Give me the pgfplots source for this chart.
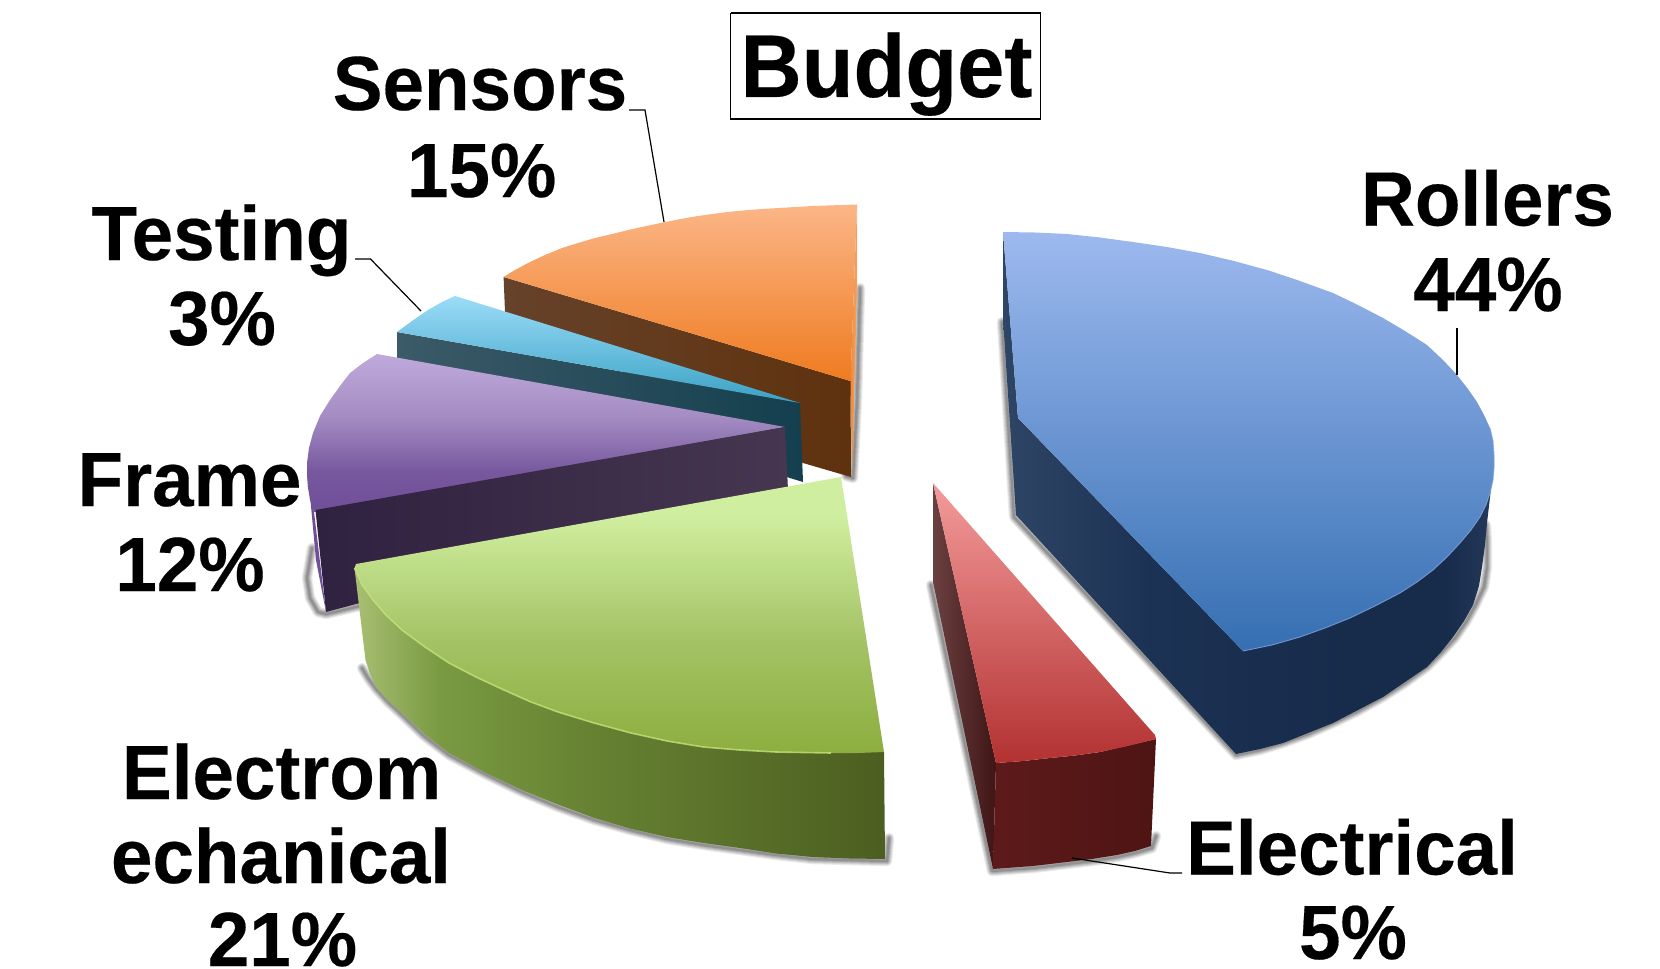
\documentclass[border=0pt]{standalone}
\usepackage{fontspec}
\setmainfont{Liberation Sans}[BoldFeatures={FakeBold=0.25}]
\usepackage{pgfplots}
\pgfplotsset{compat=1.18}

\definecolor{orTop}{HTML}{FBB687}\definecolor{orBot}{HTML}{EF7B20}
\definecolor{orEdgeL}{HTML}{EF8A3A}\definecolor{orEdgeR}{HTML}{F3A469}
\definecolor{orSideL}{HTML}{66422A}\definecolor{orSideR}{HTML}{5F320E}
\definecolor{cyTop}{HTML}{9BDCF8}\definecolor{cyBot}{HTML}{39A1C4}
\definecolor{cySideL}{HTML}{3C5A68}\definecolor{cySideR}{HTML}{143F4E}
\definecolor{puTop}{HTML}{C0AADC}\definecolor{puMid}{HTML}{A48CC2}\definecolor{puBot}{HTML}{6F4F98}
\definecolor{puSideL}{HTML}{2F2140}\definecolor{puSideR}{HTML}{463650}
\definecolor{grTop}{HTML}{D0EE9F}\definecolor{grMid}{HTML}{A3C264}\definecolor{grBot}{HTML}{8DAE3F}
\definecolor{grSideA}{HTML}{A8BF73}\definecolor{grSideB}{HTML}{7A9A42}\definecolor{grSideC}{HTML}{668232}\definecolor{grSideD}{HTML}{4C5E20}
\definecolor{grRim}{HTML}{C4E27A}
\definecolor{reTop}{HTML}{F49B9B}\definecolor{reBot}{HTML}{B33131}
\definecolor{reFlankL}{HTML}{6B4040}\definecolor{reFlankR}{HTML}{3F1515}
\definecolor{reSideL}{HTML}{5E1A1A}\definecolor{reSideR}{HTML}{4E1414}
\definecolor{blTop}{HTML}{9DB9EF}\definecolor{blBot}{HTML}{356FB2}\definecolor{blRim}{HTML}{7FA0DA}
\definecolor{blSideA}{HTML}{2F4566}\definecolor{blSideB}{HTML}{1C3254}\definecolor{blSideC}{HTML}{172B4B}\definecolor{blSideD}{HTML}{24395A}

% Colour runs for the slice tops and rims; 25bp to 75bp span the filled region
\pgfdeclareverticalshading{puTopRun}{100bp}{color(0bp)=(puBot); color(25bp)=(puBot); color(38bp)=(puBot!85!puMid); color(55bp)=(puMid); color(75bp)=(puTop); color(100bp)=(puTop)}
\pgfdeclareverticalshading{grTopRun}{100bp}{color(0bp)=(grBot); color(25bp)=(grBot); color(45bp)=(grMid); color(68bp)=(grTop); color(75bp)=(grTop); color(100bp)=(grTop)}
\pgfdeclarehorizontalshading{grSideRun}{100bp}{color(0bp)=(grSideA); color(25bp)=(grSideA); color(33bp)=(grSideB); color(47bp)=(grSideC); color(75bp)=(grSideD); color(100bp)=(grSideD)}
\pgfdeclarehorizontalshading{blSideRun}{100bp}{color(0bp)=(blSideA); color(25bp)=(blSideA); color(40bp)=(blSideB); color(60bp)=(blSideC); color(70bp)=(blSideC); color(75bp)=(blSideD); color(100bp)=(blSideD)}

\pgfplotsset{
  slice/.style={draw=none,line join=round},
}
% Soft edge under a slice: stacked translucent strokes along its lower outline
\newcommand{\softshadow}[1]{%
  \addplot[draw=black,opacity=.08,line width=5.2pt,line cap=round,line join=round] coordinates {#1};
  \addplot[draw=black,opacity=.09,line width=4.2pt,line cap=round,line join=round] coordinates {#1};
  \addplot[draw=black,opacity=.10,line width=3.2pt,line cap=round,line join=round] coordinates {#1};
  \addplot[draw=black,opacity=.12,line width=2.2pt,line cap=round,line join=round] coordinates {#1};
  \addplot[draw=black,opacity=.14,line width=1.2pt,line cap=round,line join=round] coordinates {#1};
}
% One label line: centred on x, sitting on baseline y
\newcommand{\lab}[3]{\node[anchor=base,inner sep=0pt,font=\fontsize{37.3}{44}\selectfont\bfseries] at (axis cs:#1,#2) {\scalebox{1}[1.03]{#3}};}

\begin{document}
\begin{tikzpicture}
\useasboundingbox (0,0) rectangle (830pt,484.5pt);
\clip (0,0) rectangle (830pt,484.5pt);
\begin{axis}[
  at={(0pt,0pt)}, anchor=south west,
  scale only axis, width=830pt, height=484.5pt,
  xmin=0, xmax=1660, ymin=0, ymax=969, y dir=reverse,
  hide axis, no markers, clip=false,
]
% shadows
\softshadow{(1002,322) (1014,517) (1236,755) (1260,750) (1283,743) (1308,734) (1333,723) (1358,711) (1383,697) (1405,683) (1427,667) (1441,653) (1455,638) (1466,622) (1475,606) (1484,587) (1487,567) (1487,545) (1486,525)}
\softshadow{(931,585) (992,871) (1033,868) (1067,864) (1092,861) (1117,857) (1135,853) (1152,848) (1156,836)}
\softshadow{(362,668) (368,678) (376,689) (388,702) (402,715) (424,736) (449,755) (485,774) (522,792) (558,807) (594.5,820) (630,830) (667,839) (703.5,845) (740,850) (776,855) (812.5,859) (849,860) (887,861) (889,838)}
\softshadow{(312,548) (307,578) (310,598) (318,612) (326,614) (360,606)}
\softshadow{(860,288) (857,400) (853,478) (846,476)}

% Sensors 15%
\addplot[draw=none,left color=orEdgeL,right color=orEdgeR] coordinates {(857,204) (857,290) (852,477) (850.5,381)};
\addplot[draw=none,left color=orSideL,right color=orSideR] coordinates {(503.6,277) (850.5,381) (851,477) (803,463) (505,312)};
\addplot[slice,top color=orTop,bottom color=orBot] coordinates {(857,204.5) (812,206) (787,207.5) (762,209) (745,210.3) (728,212) (712,214) (695,216.5) (679,219.3) (663,222.5) (645.5,226.2) (628,230) (612,234) (595,238) (578,243) (562,248) (545,255) (528,263) (515,270) (503.6,277) (850.5,381)};

% Testing 3%
\addplot[draw=none,left color=cySideL,right color=cySideR] coordinates {(397,332) (800,403) (803,482) (397.5,358)};
\addplot[slice,top color=cyTop,bottom color=cyBot] coordinates {(455,296) (800,403) (397,332) (412,321) (428,310) (442,302)};

% Frame 12%
\addplot[draw=none,fill=puBot] coordinates {(307,463) (308,487) (314,512) (326,612) (316,560)};
\addplot[slice,shade,shading=puTopRun] coordinates {(377,354) (785,427) (314,512) (310,500) (308,487) (307,475) (307,463) (309,448) (313,433) (320,416) (330,400) (340,386) (350,373) (363,363)};
\addplot[draw=none,left color=puSideL,right color=puSideR] coordinates {(315.5,510) (785,427) (788,490) (326,612)};

% Electromechanical 21%
\addplot[slice,shade,shading=grSideRun] coordinates {(354.5,568) (884,752) (885,859) (849,858.5) (812.5,857) (776,853.5) (740,848) (703.5,843) (667,837) (630,828.5) (594.5,818) (558,804.5) (522,790) (485,772.5) (449,753) (424.5,734) (402,713) (388,700.5) (376,687) (370,674) (365.5,660)};
\addplot[slice,shade,shading=grTopRun] coordinates {(841,477) (356,564) (354.5,568) (362,585) (373,600) (386,615) (402,630) (425,647) (449,663) (476,677) (504,690) (531,702) (558,712) (594,723) (631,733) (667,741) (703.5,747) (740,750) (776,752) (804,752.5) (831,753) (858,753) (884,752)};
\addplot[color=grRim,line join=round,line width=.8pt,opacity=.8] coordinates {(354.5,568) (362,585) (373,600) (386,615) (402,630) (425,647) (449,663) (476,677) (504,690) (531,702) (558,712) (594,723) (631,733) (667,741) (703.5,747) (740,750) (776,752) (804,752.5) (831,753)};

% Electrical 5%
\addplot[draw=none,left color=reFlankL,right color=reFlankR] coordinates {(933,483) (996,763) (993,869) (933,582)};
\addplot[slice,left color=reSideL,right color=reSideR] coordinates {(996,763) (1023,761) (1050,758) (1075,755.5) (1100,752) (1156,739) (1151,846) (1135,851) (1117,855) (1092,859) (1067,862) (1033,866) (993,869)};
\addplot[slice,top color=reTop,bottom color=reBot] coordinates {(933,483) (1155,735) (1156,739) (1128,746) (1100,752) (1075,755.5) (1050,758) (1023,761) (996,763)};

% Rollers 44%
\addplot[slice,shade,shading=blSideRun] coordinates {(1003,232) (1018,418) (1243,651) (1272,645) (1300,637) (1325,628) (1350,618) (1375,606) (1400,593) (1417,582) (1433,570) (1447,557) (1460,543) (1471,530) (1480,517) (1486,505) (1490,493) (1494,465) (1492,480) (1487,523) (1485,545) (1482,567) (1479,586) (1473,605) (1464,621) (1453,637) (1441,652) (1427,667) (1405,682) (1383,697) (1358,710) (1333,723) (1308,733) (1283,743) (1260,749) (1236,754) (1016,515) (1003,319)};
\addplot[slice,top color=blTop,bottom color=blBot] coordinates {(1003,232) (1035,232.5) (1067,234) (1100,237.5) (1133,242) (1167,247) (1200,253) (1234,261) (1267,270) (1300,281) (1333,293) (1358,305) (1383,318) (1405,331) (1427,345) (1443,360) (1457,375) (1468,389) (1477,402) (1484,415) (1490,428) (1493,441) (1494,455) (1494,468) (1493,480) (1490,493) (1486,505) (1480,517) (1471,530) (1460,543) (1447,557) (1433,570) (1417,582) (1400,593) (1375,606) (1350,618) (1325,628) (1300,637) (1272,645) (1243,651) (1018,418)};
\addplot[color=blRim,line join=round,line width=.5pt,opacity=.7] coordinates {(1490,428) (1493,441) (1494,455) (1494,468) (1493,480) (1490,493) (1486,505) (1480,517) (1471,530) (1460,543) (1447,557) (1433,570) (1417,582) (1400,593) (1375,606) (1350,618) (1325,628) (1300,637) (1272,645) (1243,651)};

% leader lines
\addplot[black,line width=.6pt] coordinates {(629,110) (645,110) (664,222)};
\addplot[black,line width=.6pt] coordinates {(355,259) (370.5,259) (421,311)};
\addplot[black,line width=.6pt] coordinates {(1457,328) (1457,375)};
\addplot[black,line width=.6pt] coordinates {(1072,858) (1170,873) (1182,873)};

% title box
\addplot[black,line width=.7pt] coordinates {(730.5,13) (1040.5,13) (1040.5,119) (730.5,119) (730.5,13)};
\node[anchor=base,inner sep=0pt,font=\fontsize{42.4}{50}\selectfont\bfseries] at (axis cs:886.5,97) {\scalebox{1}[1.05]{Budget}};

\lab{480}{110}{Sensors}
\lab{481.7}{197}{15\%}
\lab{221.5}{260}{Testing}
\lab{222}{345}{3\%}
\lab{1487.5}{225.5}{Rollers}
\lab{1488}{311}{44\%}
\lab{189.5}{506}{Frame}
\lab{190}{591}{12\%}
\lab{281.6}{799}{Electrom}
\lab{281}{883}{echanical}
\lab{282.5}{966}{21\%}
\lab{1352}{874.5}{Electrical}
\lab{1353}{959}{5\%}
\end{axis}
\end{tikzpicture}
\end{document}
